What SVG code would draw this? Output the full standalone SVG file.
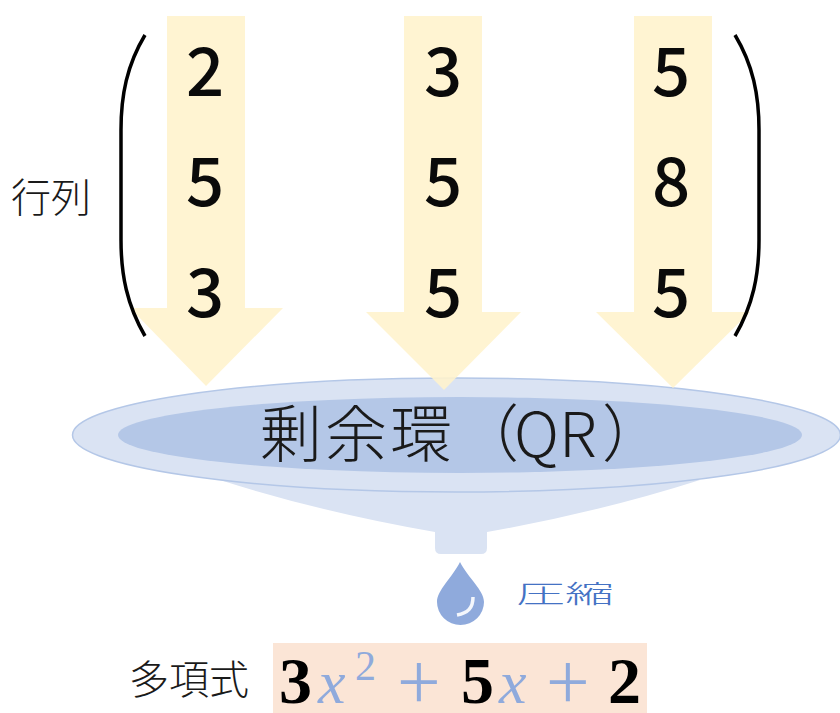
<svg xmlns="http://www.w3.org/2000/svg" width="840" height="713" viewBox="0 0 840 713">
<style>
.jp{font-family:"Noto Sans CJK JP","Noto Sans",sans-serif;font-weight:300;fill:#1a1a1a}
.num{font-family:"Noto Sans CJK JP","Noto Sans",sans-serif;font-weight:500;font-size:67px;fill:#0a0a0a;text-anchor:middle}
.arrow{fill:#fff2cc;fill-opacity:.88}
.br{fill:none;stroke:#000;stroke-width:3.5}
.m{font-family:"Liberation Serif",serif;font-weight:700;font-size:66px;fill:#000}
.v{font-family:"Liberation Serif",serif;font-style:italic;fill:#8faadc;font-size:62px}
.p{font-family:"Noto Sans CJK JP",sans-serif;font-weight:300;font-size:78px;fill:#8faadc}
</style>
<g id="funnel">
<path d="M220 480Q320 512 435 532V548Q435 554 441 554H481Q487 554 487 548V532Q600 512 700 480Z" fill="#dae3f3"/>
<ellipse cx="456.500" cy="435" rx="384" ry="57" fill="#dae3f3" stroke="#b4c7e7" stroke-width="1.5"/>
<ellipse cx="460" cy="435" rx="342" ry="38" fill="#b4c7e7"/>
<text class="jp" x="260 325 390 457 514 559 602" y="457" font-size="62">剰余環（QR）</text>
</g>
<g id="col1">
<path class="arrow" d="M167 16H245V308H283L206 386L130 308H167Z"/>
<text class="num" x="205" y="96">2</text><text class="num" x="205" y="206">5</text><text class="num" x="205" y="317">3</text>
</g>
<g id="col2">
<path class="arrow" d="M404 16H482V312H521L444 390L366 312H404Z"/>
<text class="num" x="443" y="96">3</text><text class="num" x="443" y="206">5</text><text class="num" x="443" y="317">5</text>
</g>
<g id="col3">
<path class="arrow" d="M634 16H712V312H750L673 388L596 312H634Z"/>
<text class="num" x="671" y="96">5</text><text class="num" x="671" y="206">8</text><text class="num" x="671" y="317">5</text>
</g>
<g id="brackets">
<path class="br" d="M145 35C127 65 121 95 121 130V240C121 275 127 305 145 336"/>
<path class="br" d="M735 35C753 65 759 95 759 130V240C759 275 753 305 735 336"/>
</g>
<g id="label-matrix"><text class="jp" x="11" y="212" font-size="40">行列</text></g>
<g id="drop">
<path d="M460 562C452 578 437 590 437 602A23.500 23 0 0 0 484 602C484 590 468 578 460 562Z" fill="#8faadc"/>
<path d="M473 597C473 608 468 613 457 615" fill="none" stroke="#f4f7fc" stroke-width="3.5"/>
</g>
<g id="label-compress"><text transform="translate(516 603) scale(2 1)" font-family="Noto Sans CJK JP,sans-serif" font-size="24.500" font-weight="300" fill="#4472c4">圧縮</text></g>
<g id="label-poly"><text class="jp" x="129" y="694" font-size="40">多項式</text></g>
<g id="polynomial">
<rect x="273" y="643" width="374" height="70" fill="#fbe5d6"/>
<text class="m" x="279" y="703">3</text>
<text class="v" x="318" y="703">x</text>
<text x="355" y="680" font-family="Liberation Serif,serif" font-size="42" fill="#8faadc">2</text>
<text class="p" x="398" y="711">+</text>
<text class="m" x="461" y="703">5</text>
<text class="v" x="499" y="703">x</text>
<text class="p" x="547" y="711">+</text>
<text class="m" x="608" y="703">2</text>
</g>
</svg>
